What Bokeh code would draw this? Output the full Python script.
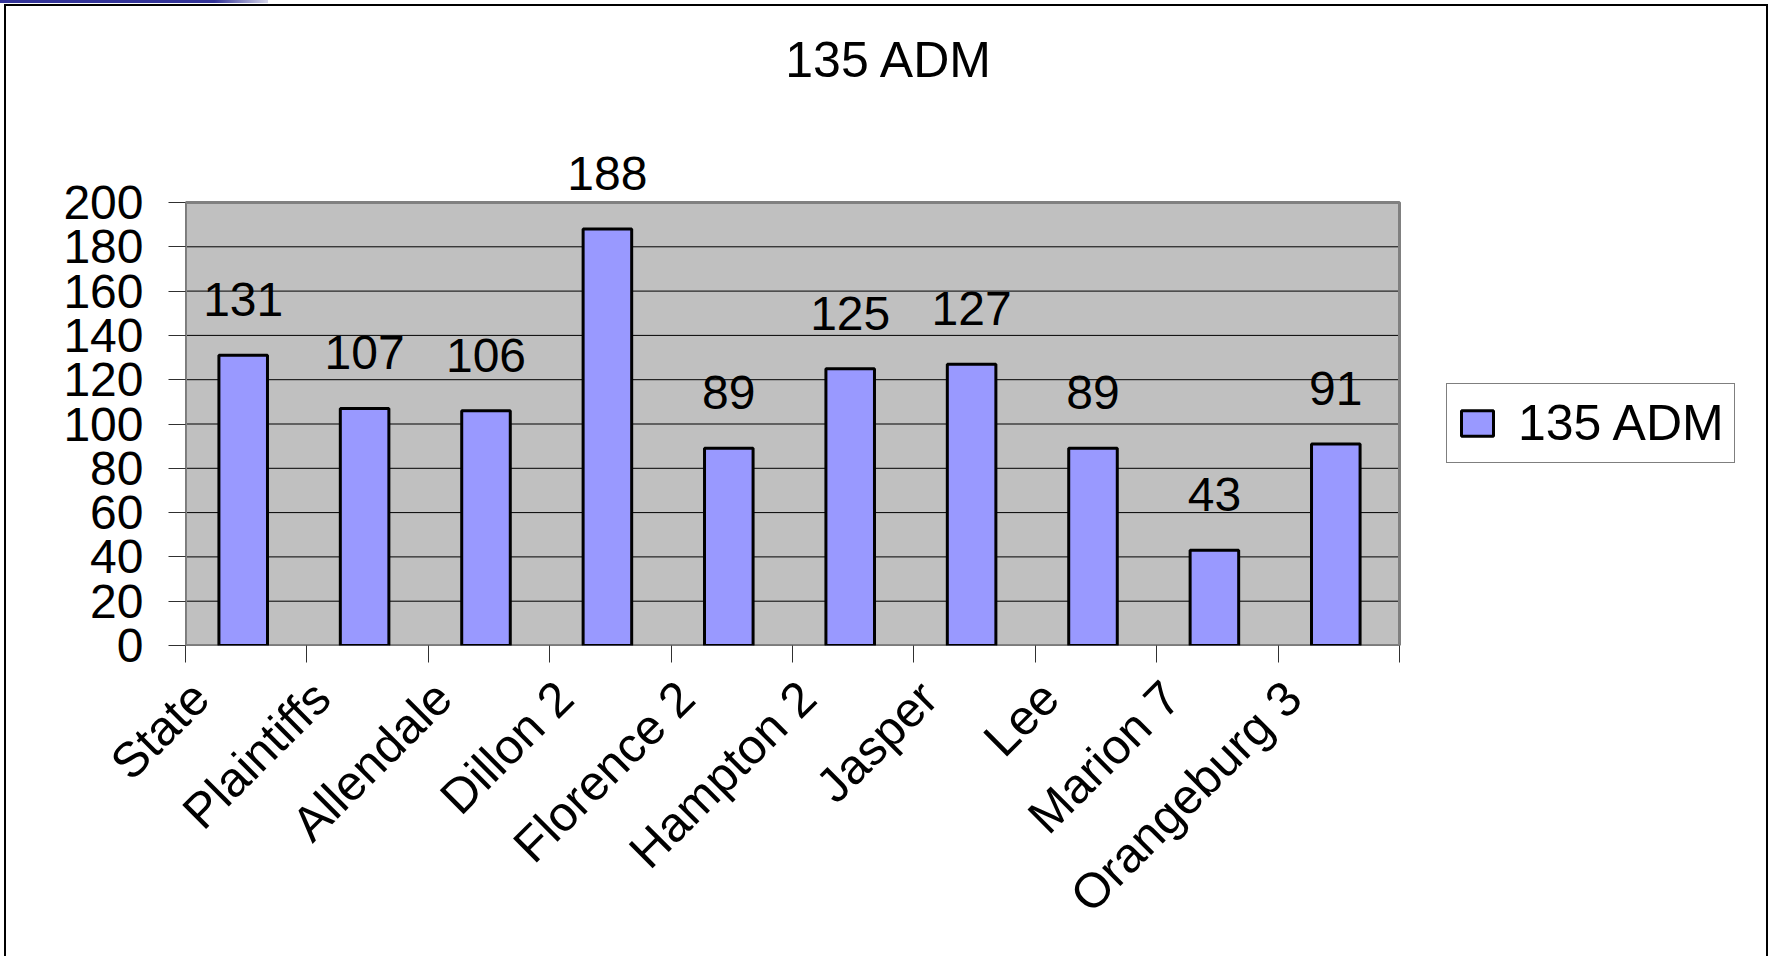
from math import pi
from bokeh.plotting import figure
from bokeh.models import (ColumnDataSource, Range1d, FixedTicker, Label, LabelSet,
                          Legend, LegendItem, LinearAxis, InlineStyleSheet)
from bokeh.core.properties import value
from bokeh.transform import dodge
from bokeh.embed import file_html
from bokeh.resources import INLINE

# ---- data ----
categories = ["State", "Plaintiffs", "Allendale", "Dillon 2", "Florence 2",
              "Hampton 2", "Jasper", "Lee", "Marion 7", "Orangeburg 3"]
values = [131, 107, 106, 188, 89, 125, 127, 89, 43, 91]
series_name = "135 ADM"
title_text = "135 ADM"
y_ticks = [0, 20, 40, 60, 80, 100, 120, 140, 160, 180, 200]

# ---- layout (pixels) ----
FONT = "Liberation Sans"
W, H = 1771, 956
AREA_L, AREA_R, AREA_T, AREA_B = 185, 1399, 202, 645   # gray plot area
n = len(categories)
PX_X = (AREA_R - AREA_L) / n                 # px per category
PX_Y = (AREA_B - AREA_T) / (y_ticks[-1] - y_ticks[0])
x_start = -0.5
x_end = x_start + (W - AREA_L) / PX_X
y_end = y_ticks[0] + AREA_B / PX_Y
BAR_DODGE = -3 / PX_X


def px_x(px):
    return x_start + (px - AREA_L) / PX_X


def px_y(py):
    return y_ticks[0] + (AREA_B - py) / PX_Y


xs = list(range(n))
src = ColumnDataSource(dict(x=xs, v=values, lab=[str(v) for v in values]))

p = figure(width=W, height=H,
           x_range=Range1d(x_start, x_end),
           y_range=Range1d(y_ticks[0], y_end),
           x_axis_location=None,
           output_backend="svg", toolbar_location=None,
           min_border_left=AREA_L, min_border_right=0,
           min_border_top=0, min_border_bottom=H - AREA_B)
p.background_fill_color = "white"
p.border_fill_color = "white"
p.outline_line_color = None
p.xgrid.grid_line_color = None
p.ygrid.grid_line_color = None

# plot area background, gridlines and border
p.quad(left=[x_start], right=[n - 0.5], bottom=[y_ticks[0]], top=[y_ticks[-1]],
       fill_color="#C0C0C0", line_color=None)
inner = y_ticks[1:-1]
p.segment(x0=[x_start] * len(inner), x1=[n - 0.5] * len(inner), y0=inner, y1=inner,
          line_color="black", line_width=1)
p.quad(left=[x_start], right=[n - 0.5], bottom=[y_ticks[0]], top=[y_ticks[-1]],
       fill_color=None, line_color="#808080", line_width=3)
p.segment(x0=[x_start, x_start], x1=[x_start, n - 0.5], y0=[y_ticks[0], y_ticks[0]],
          y1=[y_ticks[-1], y_ticks[0]], line_color="#404040", line_width=1)

# y axis
ya = p.yaxis[0]
ya.ticker = FixedTicker(ticks=y_ticks)
ya.axis_line_color = None
ya.major_tick_line_color = "#303030"
ya.major_tick_out = 17
ya.major_tick_in = 0
ya.minor_tick_line_color = None
ya.major_label_text_font = FONT
ya.major_label_text_font_size = "48px"
ya.major_label_text_color = "black"
ya.major_label_standoff = 25

# x axis: a shifted range so the rotated labels sit like the original,
# tick marks at the category boundaries
LAB_SHIFT = 46 / PX_X
p.extra_x_ranges = {"lab": Range1d(x_start + LAB_SHIFT, x_end + LAB_SHIFT)}
xa = LinearAxis(x_range_name="lab")
xa.ticker = FixedTicker(ticks=xs,
                        minor_ticks=[i - 0.5 + LAB_SHIFT for i in range(n + 1)])
xa.major_label_overrides = {i: c for i, c in zip(xs, categories)}
xa.axis_line_color = None
xa.major_tick_line_color = None
xa.major_tick_out = 17
xa.major_tick_in = 0
xa.minor_tick_line_color = "#303030"
xa.minor_tick_out = 17
xa.minor_tick_in = 0
xa.major_label_orientation = pi / 4
xa.major_label_text_font = FONT
xa.major_label_text_font_size = "49px"
xa.major_label_text_color = "black"
xa.major_label_standoff = 27
p.add_layout(xa, "below")

r = p.vbar(x=dodge("x", BAR_DODGE), top="v", width=0.40, source=src,
           fill_color="#9999FF", line_color="black", line_width=3)

labels = LabelSet(x=dodge("x", BAR_DODGE), y="v", text="lab", source=src,
                  text_align="center", text_baseline="alphabetic", y_offset=39,
                  text_font=value(FONT), text_font_size="48px", text_color="black")
p.add_layout(labels)

title = Label(x=px_x(889), y=px_y(59), text=title_text,
              text_align="center", text_baseline="middle",
              text_font=FONT, text_font_size="50px", text_color="black")
p.add_layout(title)

legend = Legend(items=[LegendItem(label=series_name, renderers=[r])],
                location=(1446 - AREA_L, AREA_B - 463), margin=0, padding=10,
                glyph_width=40, glyph_height=32, label_standoff=21,
                label_text_font=FONT, label_text_font_size="50px",
                label_text_color="black",
                border_line_color="black", border_line_width=1,
                background_fill_color="white", background_fill_alpha=1)
p.add_layout(legend)

# slide frame around the chart and the blue strip at the top-left
p.stylesheets = [InlineStyleSheet(css="""
:host::after { content: ""; position: absolute; left: 4px; top: 4px; right: 3px; bottom: 0px;
  border: 2px solid #000; border-bottom: none; pointer-events: none; z-index: 100; }
:host::before { content: ""; position: absolute; left: 0px; top: 0px; width: 268px; height: 3px;
  background: linear-gradient(to right, #333399 80%, rgba(51,51,153,0.2)); z-index: 100; }
""")]

open("out.html", "w").write(file_html(p, INLINE))
